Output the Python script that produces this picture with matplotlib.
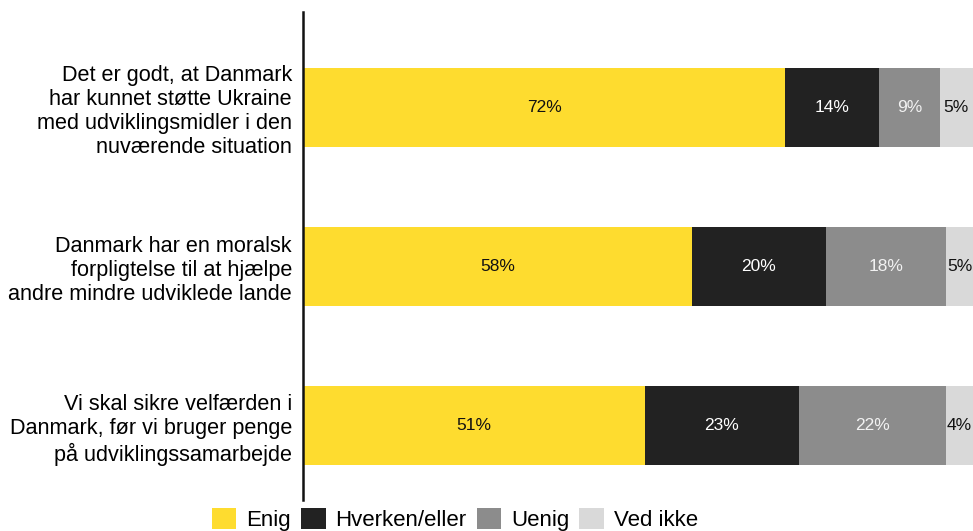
import matplotlib
matplotlib.use("Agg")
import matplotlib.pyplot as plt

categories = [
    "Det er godt, at Danmark\nhar kunnet støtte Ukraine\nmed udviklingsmidler i den\nnuværende situation",
    "Danmark har en moralsk\nforpligtelse til at hjælpe\nandre mindre udviklede lande",
    "Vi skal sikre velfærden i\nDanmark, før vi bruger penge\npå udviklingssamarbejde",
]
series_names = ["Enig", "Hverken/eller", "Uenig", "Ved ikke"]
enig = [72, 58, 51]
hverken = [14, 20, 23]
uenig = [9, 18, 22]
ved_ikke = [5, 5, 4]
series_values = [enig, hverken, uenig, ved_ikke]
colors = ["#FEDC2F", "#222222", "#8C8C8C", "#D9D9D9"]
text_colors = ["#111111", "#FFFFFF", "#F2F2F2", "#111111"]

plt.rcParams["font.family"] = ["Liberation Sans", "DejaVu Sans"]

fig = plt.figure(figsize=(9.73, 5.31), dpi=100)
ax = fig.add_axes([303 / 973, 1 - 500 / 531, 1 - 303 / 973, (500 - 12) / 531])

y = list(range(len(categories)))
left = [0.0] * len(categories)
handles = []
for name, vals, col, tcol in zip(series_names, series_values, colors, text_colors):
    bars = ax.barh(y, vals, left=left, height=0.5, color=col, label=name, linewidth=0)
    handles.append(bars)
    for i, v in enumerate(vals):
        start = left[i]
        end = min(start + v, 100)
        ax.text((start + end) / 2, y[i], f"{v}%", ha="center", va="center",
                color=tcol, fontsize=12.5)
    left = [l + v for l, v in zip(left, vals)]

ax.set_xlim(0, 100)
ax.set_ylim(2.469, -0.6)
ax.set_yticks(y)
ax.set_yticklabels(categories, fontsize=15.6, linespacing=1.2, ha="right")
ax.tick_params(axis="y", length=0, pad=8)
ax.set_xticks([])
for s in ["top", "right", "bottom"]:
    ax.spines[s].set_visible(False)
ax.spines["left"].set_linewidth(1.8)
ax.spines["left"].set_color("#111111")

fig.legend(handles=handles, labels=series_names, loc="upper center",
           bbox_to_anchor=(455 / 973, 1 - 508 / 531), ncol=4, frameon=False,
           fontsize=16, handlelength=1.1, handleheight=1.05,
           handletextpad=0.45, columnspacing=0.45, borderpad=0, borderaxespad=0)

fig.savefig("out.png", dpi=100)
